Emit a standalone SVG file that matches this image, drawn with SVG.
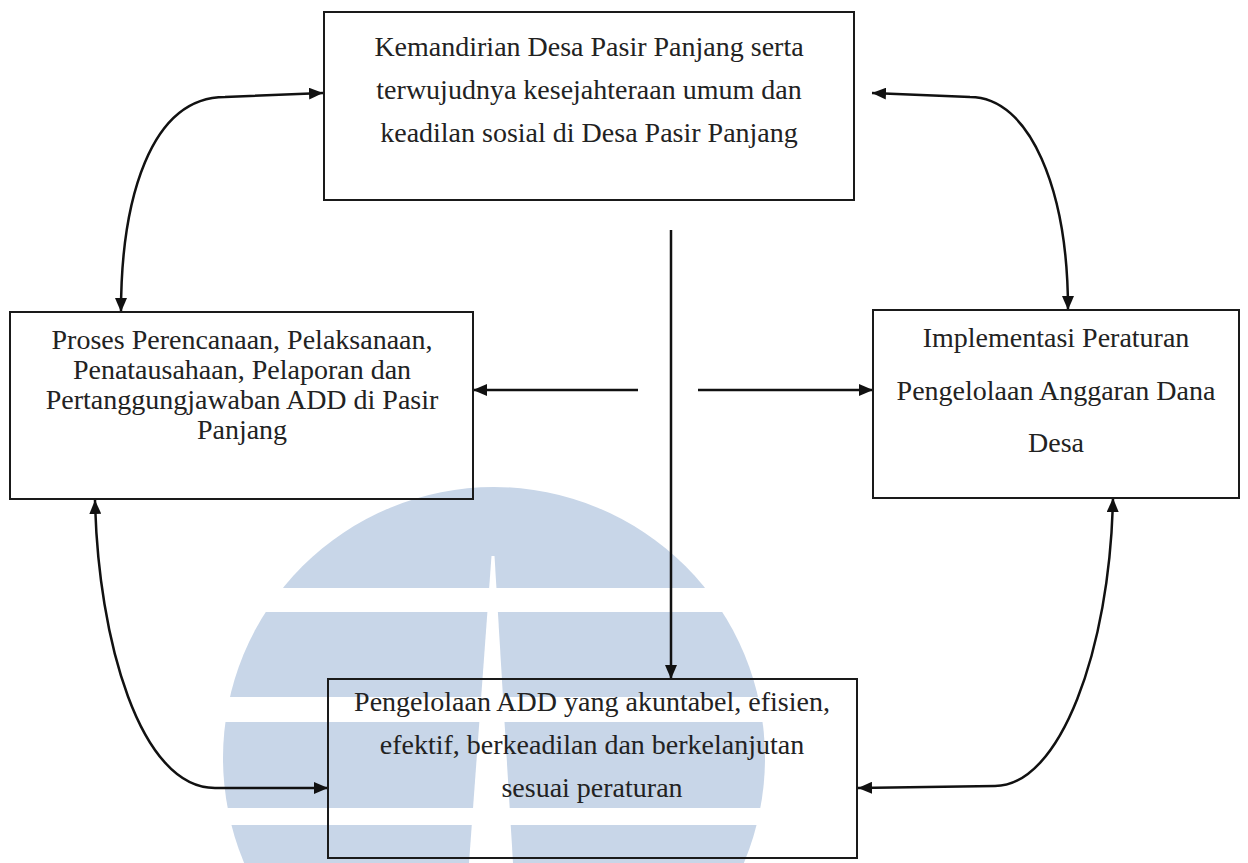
<svg xmlns="http://www.w3.org/2000/svg" width="1248" height="863" viewBox="0 0 1248 863">
  <style>
    .box { fill: none; stroke: #1a1a1a; stroke-width: 2; }
    .lbl { font-family: "Liberation Serif", "Times New Roman", serif; font-size: 28px; fill: #222; text-anchor: middle; }
    .conn { fill: none; stroke: #111; stroke-width: 2.5; }
    .wm { fill: #c8d6e8; }
    .wmgap { fill: #ffffff; }
  </style>
  <defs>
    <marker id="arr" viewBox="0 0 14 12" refX="14" refY="6" markerWidth="14" markerHeight="12" markerUnits="userSpaceOnUse" orient="auto-start-reverse">
      <path d="M0,0 L14,6 L0,12 z" fill="#111"/>
    </marker>
  </defs>
  <rect width="1248" height="863" fill="#ffffff"/>

  <g id="watermark">
    <circle class="wm" cx="494" cy="758" r="271"/>
    <rect class="wmgap" x="200" y="588" width="600" height="24"/>
    <rect class="wmgap" x="200" y="697" width="600" height="25"/>
    <rect class="wmgap" x="200" y="808" width="600" height="17"/>
    <polygon class="wmgap" points="491.5,556 494.5,556 513,863 469,863"/>
  </g>

  <g id="connectors">
    <path class="conn" d="M121,312 C121,200 150,97 225,97 L323,93" marker-start="url(#arr)" marker-end="url(#arr)"/>
    <path class="conn" d="M872,93 L970,97 C1030,97 1068,190 1068,310" marker-start="url(#arr)" marker-end="url(#arr)"/>
    <path class="conn" d="M95,500 C98,640 140,788 215,788 L328,788" marker-start="url(#arr)" marker-end="url(#arr)"/>
    <path class="conn" d="M1113,498 C1110,650 1060,786 995,786 L858,788" marker-start="url(#arr)" marker-end="url(#arr)"/>
    <path class="conn" d="M671,230 L671,679" marker-end="url(#arr)"/>
    <path class="conn" d="M638,390 L473,390" marker-end="url(#arr)"/>
    <path class="conn" d="M698,390 L873,390" marker-end="url(#arr)"/>
  </g>

  <g id="node-top">
    <rect class="box" x="324" y="12" width="530" height="188"/>
    <text class="lbl" x="589" y="56">Kemandirian Desa Pasir Panjang serta</text>
    <text class="lbl" x="589" y="99">terwujudnya kesejahteraan umum dan</text>
    <text class="lbl" x="589" y="142">keadilan sosial di Desa Pasir Panjang</text>
  </g>

  <g id="node-left">
    <rect class="box" x="10" y="312" width="463" height="187"/>
    <text class="lbl" x="242" y="349">Proses Perencanaan, Pelaksanaan,</text>
    <text class="lbl" x="242" y="379">Penatausahaan, Pelaporan dan</text>
    <text class="lbl" x="242" y="409">Pertanggungjawaban ADD di Pasir</text>
    <text class="lbl" x="242" y="439">Panjang</text>
  </g>

  <g id="node-right">
    <rect class="box" x="873" y="310" width="366" height="188"/>
    <text class="lbl" x="1056" y="347">Implementasi Peraturan</text>
    <text class="lbl" x="1056" y="400">Pengelolaan Anggaran Dana</text>
    <text class="lbl" x="1056" y="452">Desa</text>
  </g>

  <g id="node-bottom">
    <rect class="box" x="328" y="679" width="529" height="179"/>
    <text class="lbl" x="592" y="711">Pengelolaan ADD yang akuntabel, efisien,</text>
    <text class="lbl" x="592" y="754">efektif, berkeadilan dan berkelanjutan</text>
    <text class="lbl" x="592" y="797">sesuai peraturan</text>
  </g>
</svg>
